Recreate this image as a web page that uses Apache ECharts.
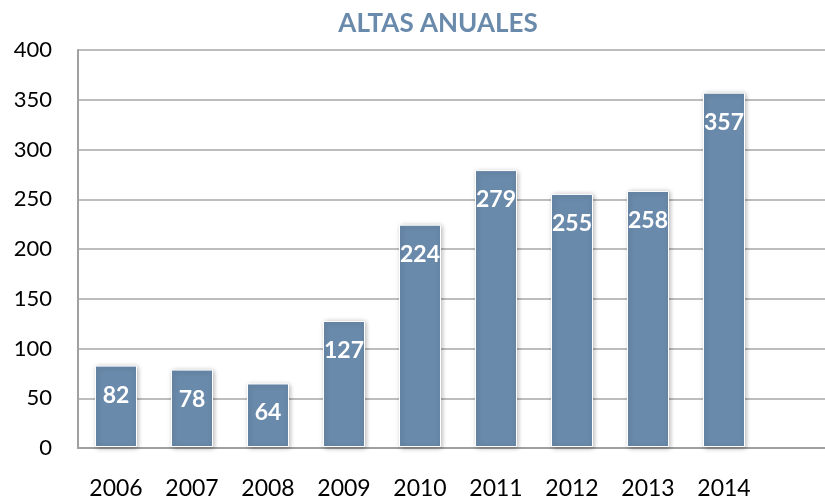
<!DOCTYPE html>
<html>
<head>
<meta charset="utf-8">
<script src="https://cdn.jsdelivr.net/npm/echarts@6/dist/echarts.min.js"></script>
<style>
  html, body { margin: 0; padding: 0; background: #ffffff; }
  #chart { width: 825px; height: 500px; }
</style>
</head>
<body>
<div id="chart"></div>
<script>
// datos del grafico
var years = ["2006", "2007", "2008", "2009", "2010", "2011", "2012", "2013", "2014"];
var altas = [82, 78, 64, 127, 224, 279, 255, 258, 357];
var yTicks = [0, 50, 100, 150, 200, 250, 300, 350, 400];

var chart = echarts.init(document.getElementById("chart"));
var font = "Lato, 'Open Sans', sans-serif";

var option = {
  animation: false,
  title: {
    text: "ALTAS ANUALES",
    left: 433,
    textAlign: "center",
    top: 6,
    textStyle: { color: "#6a8aab", fontSize: 26, fontWeight: "bold", fontFamily: font }
  },
  grid: [
    // rejilla ancha solo para las lineas horizontales
    { left: 78, right: 0, top: 50, bottom: 52 },
    // rejilla de las barras
    { left: 78, width: 684, top: 50, bottom: 52 }
  ],
  xAxis: [
    {
      gridIndex: 0, type: "value", min: 0, max: 1, show: true,
      axisLine: { show: true, lineStyle: { color: "#a0a0a0", width: 2 } },
      axisTick: { show: false }, axisLabel: { show: false }, splitLine: { show: false }
    },
    {
      gridIndex: 1, type: "category", data: years,
      axisLine: { show: false }, axisTick: { show: false },
      axisLabel: { margin: 30, color: "#000", fontSize: 23, fontFamily: font }
    }
  ],
  yAxis: [
    {
      gridIndex: 0, type: "value", min: 0, max: 400, interval: 50,
      axisLine: { show: true, lineStyle: { color: "#a0a0a0", width: 2 } },
      axisTick: { show: false },
      axisLabel: {
        margin: 26, color: "#000", fontSize: 22, fontFamily: font,
        formatter: function (v) { return yTicks.indexOf(v) >= 0 ? String(v) : ""; }
      },
      splitLine: { lineStyle: { color: "#bdbdbd", width: 2 } }
    },
    {
      gridIndex: 1, type: "value", min: 0, max: 400, interval: 50, show: false
    }
  ],
  series: [
    {
      type: "bar",
      xAxisIndex: 1,
      yAxisIndex: 1,
      data: altas,
      barWidth: 42,
      itemStyle: {
        color: "#6a8aab",
        borderColor: "#ffffff",
        borderWidth: 1,
        shadowBlur: 5,
        shadowColor: "rgba(0,0,0,0.3)",
        shadowOffsetX: 1,
        shadowOffsetY: 1
      },
      label: {
        show: true,
        position: "insideTop",
        distance: 18,
        color: "#ffffff",
        fontSize: 23,
        fontWeight: "bold",
        fontFamily: font
      }
    }
  ]
};

chart.setOption(option);
</script>
</body>
</html>
